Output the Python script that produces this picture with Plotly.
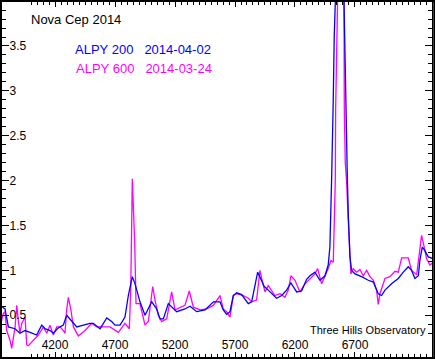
import plotly.graph_objects as go

# ALPY 200, 2014-04-02 (blue)
wl_200 = [3742, 3783, 3811, 3867, 3908, 3950, 3992, 4047, 4089, 4117, 4158, 4186, 4228, 4269,
          4297, 4339, 4381, 4436, 4492, 4519, 4575, 4631, 4672, 4700, 4742, 4783, 4811, 4844,
          4867, 4908, 4950, 5006, 5047, 5075, 5103, 5144, 5214, 5283, 5325, 5381, 5450, 5520,
          5575, 5602, 5630, 5658, 5686, 5714, 5755, 5811, 5839, 5889, 5922, 5944, 5977, 6047,
          6089, 6130, 6166, 6214, 6255, 6297, 6325, 6366, 6408, 6450, 6477, 6491, 6505, 6511,
          6519, 6527, 6536, 6560, 6600, 6617, 6625, 6636, 6644, 6658, 6672, 6700, 6755, 6811,
          6853, 6894, 6922, 6950, 7005, 7061, 7103, 7144, 7172, 7200, 7228, 7241, 7261, 7283,
          7311, 7353]
flux_200 = [0.61, 0.57, 0.37, 0.35, 0.30, 0.33, 0.31, 0.28, 0.39, 0.35, 0.33, 0.30, 0.36, 0.39,
            0.50, 0.44, 0.37, 0.39, 0.41, 0.41, 0.35, 0.47, 0.43, 0.39, 0.39, 0.48, 0.72, 0.93,
            0.85, 0.65, 0.50, 0.65, 0.57, 0.46, 0.46, 0.63, 0.54, 0.57, 0.60, 0.54, 0.56, 0.65,
            0.65, 0.56, 0.51, 0.54, 0.72, 0.75, 0.73, 0.63, 0.65, 0.98, 0.89, 0.82, 0.78, 0.69,
            0.72, 0.78, 0.86, 0.76, 0.77, 0.90, 0.94, 0.98, 0.89, 0.94, 1.06, 1.26, 2.00, 2.30,
            2.90, 3.60, 4.30, 5.00, 4.60, 3.20, 2.60, 2.05, 1.63, 1.15, 1.00, 0.96, 0.93, 0.89,
            0.87, 0.74, 0.72, 0.78, 0.85, 0.91, 0.98, 1.04, 1.00, 0.91, 0.94, 1.11, 1.26, 1.22,
            1.15, 1.13]

# ALPY 600, 2014-03-24 (magenta)
wl_600 = [3742, 3769, 3783, 3797, 3825, 3839, 3867, 3881, 3894, 3908, 3922, 3950, 3964, 3978,
          4019, 4061, 4103, 4131, 4158, 4186, 4214, 4242, 4269, 4283, 4297, 4311, 4331, 4353,
          4394, 4450, 4506, 4547, 4603, 4658, 4728, 4783, 4819, 4831, 4844, 4853, 4864, 4875,
          4908, 4950, 4978, 5014, 5033, 5061, 5089, 5131, 5172, 5200, 5242, 5283, 5319, 5353,
          5408, 5464, 5519, 5575, 5602, 5630, 5658, 5686, 5714, 5769, 5811, 5839, 5880, 5908,
          5922, 5950, 5977, 6005, 6033, 6075, 6116, 6144, 6166, 6200, 6241, 6283, 6325, 6366,
          6389, 6422, 6477, 6500, 6519, 6536, 6539, 6544, 6575, 6608, 6611, 6619, 6630, 6644,
          6658, 6666, 6686, 6714, 6741, 6769, 6797, 6825, 6853, 6880, 6894, 6908, 6950, 6991,
          7033, 7061, 7089, 7144, 7172, 7214, 7233, 7255, 7269, 7297, 7325, 7353]
flux_600 = [0.37, 0.52, 0.54, 0.33, 0.22, 0.13, 0.37, 0.61, 0.44, 0.30, 0.41, 0.48, 0.17, 0.16,
            0.22, 0.28, 0.37, 0.30, 0.39, 0.28, 0.37, 0.37, 0.33, 0.30, 0.56, 0.70, 0.57, 0.37,
            0.27, 0.33, 0.41, 0.37, 0.37, 0.37, 0.31, 0.41, 0.35, 0.78, 2.02, 1.76, 1.31, 0.63,
            0.63, 0.39, 0.43, 0.82, 0.67, 0.50, 0.43, 0.46, 0.76, 0.56, 0.59, 0.61, 0.77, 0.59,
            0.56, 0.57, 0.61, 0.72, 0.57, 0.54, 0.48, 0.72, 0.74, 0.72, 0.69, 0.65, 0.67, 1.00,
            0.91, 0.76, 0.83, 0.78, 0.72, 0.74, 0.70, 0.78, 0.94, 0.89, 0.76, 0.85, 0.91, 0.96,
            1.02, 0.85, 1.02, 1.11, 1.09, 2.00, 2.80, 4.20, 5.50, 4.20, 2.80, 2.20, 2.00, 1.56,
            1.13, 0.96, 1.02, 0.98, 1.01, 0.94, 1.00, 0.93, 0.89, 0.78, 0.62, 0.74, 0.91, 0.93,
            0.99, 0.98, 1.14, 1.14, 1.00, 0.95, 1.15, 1.39, 1.31, 1.13, 1.06, 1.09]

x_tickvals = [4200, 4700, 5200, 5700, 6200, 6700]
y_tickvals = [0.5, 1, 1.5, 2, 2.5, 3, 3.5]

title_text = "Nova Cep 2014"
legend_200 = "ALPY 200   2014-04-02"
legend_600 = "ALPY 600   2014-03-24"
credit = "Three Hills Observatory"

BLUE = "#0000FF"
MAGENTA = "#FF00FF"
FONT = "Liberation Sans, Arial, sans-serif"

fig = go.Figure()
fig.add_trace(go.Scatter(x=wl_600, y=flux_600, mode="lines",
                         line=dict(color=MAGENTA, width=1.3), showlegend=False))
fig.add_trace(go.Scatter(x=wl_200, y=flux_200, mode="lines",
                         line=dict(color=BLUE, width=1.3), showlegend=False))

fig.update_layout(
    width=435, height=360,
    margin=dict(l=2, r=3, t=0, b=3),
    paper_bgcolor="white", plot_bgcolor="white",
    font=dict(family=FONT, size=12, color="black"),
    xaxis=dict(range=[3758, 7342], tickmode="array", tickvals=x_tickvals,
               ticktext=[str(v) for v in x_tickvals], showgrid=False, zeroline=False,
               ticks="inside", ticklen=5, tickwidth=1, tickcolor="black",
               ticklabelposition="inside",
               showline=True, linecolor="black", linewidth=2, mirror="allticks",
               tickfont=dict(family=FONT, size=12, color="black"),
               minor=dict(tick0=3750, dtick=50, ticks="inside", ticklen=3, tickcolor="black",
                          showgrid=False)),
    yaxis=dict(range=[0.035, 3.99], tickmode="array", tickvals=y_tickvals,
               ticktext=[f"{v:g}" for v in y_tickvals], showgrid=False, zeroline=False,
               ticks="inside", ticklen=7, tickwidth=1, tickcolor="black",
               ticklabelposition="inside",
               showline=True, linecolor="black", linewidth=3, mirror="allticks",
               tickfont=dict(family=FONT, size=12, color="black"),
               minor=dict(tick0=0, dtick=0.1, ticks="inside", ticklen=4, tickcolor="black",
                          showgrid=False)),
)

fig.add_annotation(xref="paper", yref="paper", x=(29 - 2) / 430, y=1 - 17.5 / 357,
                   xanchor="left", yanchor="middle", showarrow=False, text=title_text,
                   font=dict(family=FONT, size=13, color="black"))
fig.add_annotation(xref="paper", yref="paper", x=(73 - 2) / 430, y=1 - 48 / 357,
                   xanchor="left", yanchor="middle", showarrow=False,
                   text=legend_200.replace(" ", "&nbsp;"),
                   font=dict(family=FONT, size=13, color=BLUE))
fig.add_annotation(xref="paper", yref="paper", x=(74 - 2) / 430, y=1 - 67 / 357,
                   xanchor="left", yanchor="middle", showarrow=False,
                   text=legend_600.replace(" ", "&nbsp;"),
                   font=dict(family=FONT, size=13, color=MAGENTA))
fig.add_annotation(xref="paper", yref="paper", x=(428 - 2) / 430, y=1 - 330 / 357,
                   xanchor="right", yanchor="middle", showarrow=False, text=credit,
                   font=dict(family=FONT, size=11, color="black"))
fig.add_shape(type="line", xref="paper", yref="paper", x0=(433.5 - 2) / 430,
              x1=(433.5 - 2) / 430, y0=0, y1=1.0, line=dict(color="#CC0000", width=1))

fig.write_html("out.html")
